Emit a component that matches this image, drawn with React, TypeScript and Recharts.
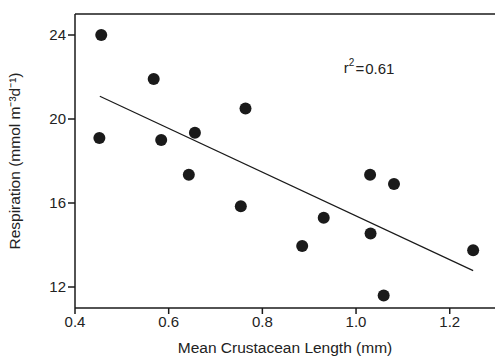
import { ScatterChart, Scatter, XAxis, YAxis, ReferenceLine } from 'recharts'

const lengths = [0.456, 0.452, 0.568, 0.584, 0.656, 0.643, 0.764, 0.754, 0.885, 0.931, 1.03, 1.081, 1.031, 1.059, 1.25]
const respiration = [24.0, 19.1, 21.9, 19.0, 19.35, 17.35, 20.5, 15.85, 13.95, 15.3, 17.35, 16.9, 14.55, 11.6, 13.75]

const xTicks = [0.4, 0.6, 0.8, 1.0, 1.2]
const yTicks = [12, 16, 20, 24]

// x range runs a little past the visible edge, the plot is cut at the right
const xDomain = [0.4, 1.318]
const yDomain = [11, 25]

// fitted line end points
const fitStart = { x: 0.453, y: 21.08 }
const fitEnd = { x: 1.25, y: 12.78 }

// frame line along the top of the plot
const topEdge = [{ x: 0.4, y: 25 }, { x: 1.318, y: 25 }]

const r2Label = [{ x: 0.974, y: 22.45, text: '0.61' }]

const points = lengths.map((x, i) => ({ x, y: respiration[i] }))

const font = '"Liberation Sans", Arial, sans-serif'
const ink = '#1a1a1a'
const textInk = '#222'

function Dot(props: any) {
  return <circle cx={props.cx} cy={props.cy} r={6} fill={ink} />
}

function R2Text(props: any) {
  return (
    <text x={props.cx} y={props.cy} dominantBaseline="central" fontSize={15} fontFamily={font} fill={textInk}>
      r<tspan dy={-6} fontSize={10}>2</tspan>
      <tspan dy={6} dx={1}>=</tspan>
      <tspan dx={1}>{props.payload?.text}</tspan>
    </text>
  )
}

export default function App() {
  return (
    <div
      style={{
        position: 'absolute',
        left: 0,
        top: 0,
        width: 495,
        height: 358,
        overflow: 'hidden',
        background: '#fff'
      }}
    >
      <ScatterChart width={505} height={358} margin={{ top: 14, right: 0, bottom: 0, left: 0 }}>
        <XAxis
          type="number"
          dataKey="x"
          domain={xDomain}
          ticks={xTicks}
          tickFormatter={(v: number) => v.toFixed(1)}
          height={50}
          tickSize={6}
          stroke={ink}
          strokeWidth={1.5}
          tick={{ fill: textInk, fontSize: 15, fontFamily: font }}
          allowDataOverflow
        />
        <YAxis
          type="number"
          dataKey="y"
          domain={yDomain}
          ticks={yTicks}
          width={75}
          tickSize={7}
          stroke={ink}
          strokeWidth={1.5}
          tick={{ fill: textInk, fontSize: 15, fontFamily: font }}
          allowDataOverflow
          label={{
            value: 'Respiration (mmol m⁻³d⁻¹)',
            angle: -90,
            position: 'insideLeft',
            offset: 0,
            dx: 14,
            style: { textAnchor: 'middle' },
            fill: textInk,
            fontSize: 15.5,
            fontFamily: font
          }}
        />
        <ReferenceLine segment={topEdge} stroke={ink} strokeWidth={1.5} />
        <ReferenceLine segment={[fitStart, fitEnd]} stroke={ink} strokeWidth={1.2} />
        <Scatter data={points} shape={<Dot />} isAnimationActive={false} />
        <Scatter data={r2Label} shape={<R2Text />} isAnimationActive={false} />
      </ScatterChart>
      <div
        style={{
          position: 'absolute',
          left: 75,
          width: 420,
          top: 339,
          textAlign: 'center',
          fontFamily: font,
          fontSize: 15.5,
          color: textInk,
          lineHeight: '18px'
        }}
      >
        Mean Crustacean Length (mm)
      </div>
    </div>
  )
}
